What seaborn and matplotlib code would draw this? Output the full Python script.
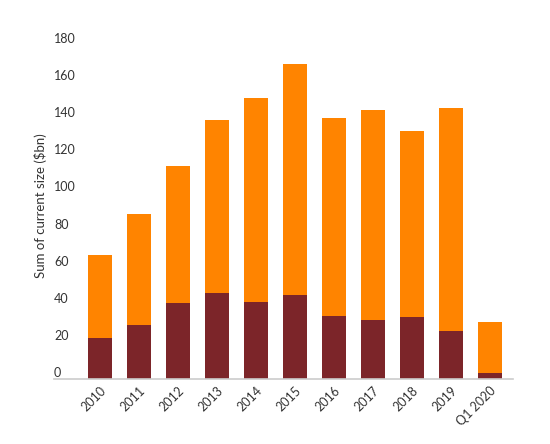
import numpy as np
import pandas as pd
import matplotlib
matplotlib.use("Agg")
import matplotlib.pyplot as plt
import seaborn as sns

# values ($bn)
years = ["2010", "2011", "2012", "2013", "2014", "2015", "2016", "2017", "2018", "2019", "Q1 2020"]
total_size = [66.8, 89.0, 114.8, 139.6, 151.5, 169.8, 140.7, 145.0, 133.7, 146.0, 30.7]
lower_size = [22.1, 29.1, 41.0, 46.4, 41.5, 45.3, 34.0, 31.8, 33.4, 25.9, 3.2]
y_ticks = [0, 20, 40, 60, 80, 100, 120, 140, 160, 180]

ORANGE = "#FF8400"
DARK_RED = "#7C2529"
TEXT = "#333333"

df = pd.DataFrame({"year": years, "total": total_size, "lower": lower_size})

sns.set_style("white")
plt.rcParams["font.family"] = ["Lato", "DejaVu Sans"]

fig = plt.figure(figsize=(5.5, 4.44), dpi=100)
ax = fig.add_axes([54 / 550, 65 / 444, 459 / 550, 334 / 444])

sns.barplot(data=df, x="year", y="total", color=ORANGE, width=0.615, saturation=1, linewidth=0, ax=ax)
sns.barplot(data=df, x="year", y="lower", color=DARK_RED, width=0.615, saturation=1, linewidth=0, ax=ax)

ax.set_xlim(-1.18, 10.59)
ax.set_ylim(0, 180)

for side in ["top", "right", "left"]:
    ax.spines[side].set_visible(False)
ax.spines["bottom"].set_color("#cccccc")
ax.spines["bottom"].set_linewidth(1.2)

# y tick labels sit inside the plot, left aligned, just above their value
ax.set_yticks(y_ticks)
ax.set_yticklabels([str(t) for t in y_ticks], fontsize=9, color=TEXT)
ax.tick_params(axis="y", length=0, pad=0)
for lbl in ax.get_yticklabels():
    lbl.set_horizontalalignment("left")
    lbl.set_verticalalignment("bottom")

ax.tick_params(axis="x", length=0, pad=4)
ax.set_xticks(range(len(years)))
ax.set_xticklabels(years, rotation=45, ha="right", rotation_mode="anchor", fontsize=9, color=TEXT)

ax.set_xlabel("")
ax.set_ylabel("Sum of current size ($bn)", fontsize=9.5, color=TEXT, va="center")
ax.yaxis.set_label_coords(-0.0305, 0.52)

fig.savefig("out.png", dpi=100)
